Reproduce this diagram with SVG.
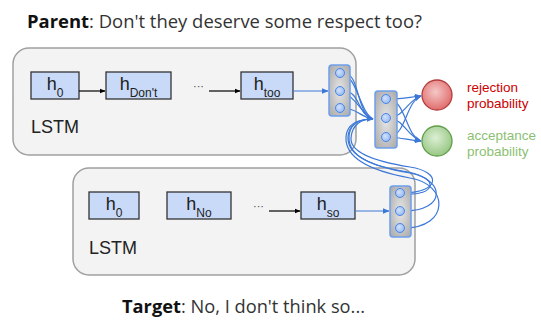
<svg xmlns="http://www.w3.org/2000/svg" width="541" height="320" viewBox="0 0 541 320">
<defs>
<style>
.cont{fill:#f3f3f3;stroke:#a0a0a0;stroke-width:1.5}
.node{fill:#c9daf8;stroke:#333;stroke-width:1.3}
.lbl{font-family:"Liberation Sans",Arial,sans-serif;font-size:18px;fill:#222}
.sub{font-size:12px}
.lstm{font-family:"Liberation Sans",Arial,sans-serif;font-size:18px;fill:#222}
.dots{font-family:"Liberation Sans",Arial,sans-serif;font-size:11px;fill:#444}
.vec{fill:url(#gg);stroke:#6d9eeb;stroke-width:1.5}
.cell{fill:url(#bc);stroke:#4a86e8;stroke-width:1}
.blk{stroke:#000;stroke-width:1.2;fill:none}
.blu{stroke:#3c78d8;stroke-width:1.2;fill:none}
.cap{font-family:"Open Sans","DejaVu Sans",sans-serif;font-size:18px;fill:#333}
.prob{font-family:"Liberation Sans",Arial,sans-serif;font-size:13.5px}
</style>
<radialGradient id="gg" cx="0.5" cy="0.5" r="0.7">
<stop offset="0" stop-color="#e6e6e6"/><stop offset="1" stop-color="#a8a8a8"/>
</radialGradient>
<radialGradient id="bc" cx="0.4" cy="0.4" r="0.7">
<stop offset="0" stop-color="#d2e2fb"/><stop offset="1" stop-color="#8fb4f0"/>
</radialGradient>
<radialGradient id="rg" cx="0.45" cy="0.4" r="0.65">
<stop offset="0" stop-color="#f4c7c7"/><stop offset="1" stop-color="#e06666"/>
</radialGradient>
<radialGradient id="gr" cx="0.45" cy="0.4" r="0.65">
<stop offset="0" stop-color="#dcefd5"/><stop offset="1" stop-color="#93c47d"/>
</radialGradient>
<marker id="ak" viewBox="0 0 10 10" refX="9" refY="5" markerWidth="6" markerHeight="6" orient="auto" markerUnits="userSpaceOnUse"><path d="M0,1 L10,5 L0,9 z" fill="#000"/></marker>
<marker id="ab" viewBox="0 0 10 10" refX="9" refY="5" markerWidth="7" markerHeight="7" orient="auto" markerUnits="userSpaceOnUse"><path d="M0,1 L10,5 L0,9 z" fill="#3c78d8"/></marker>
</defs>

<g id="caption-parent"><text class="cap" x="27" y="28" textLength="395" lengthAdjust="spacingAndGlyphs"><tspan font-weight="bold" fill="#111">Parent</tspan>: Don't they deserve some respect too?</text></g>

<g id="parent-lstm"><rect class="cont" x="13" y="48" width="343" height="107" rx="16"/>
<text class="lstm" x="31" y="133">LSTM</text></g>

<g id="target-lstm"><rect class="cont" x="73" y="168" width="342" height="107" rx="16"/>
<text class="lstm" x="89" y="254">LSTM</text></g>

<g id="p-h0"><rect class="node" x="31" y="72" width="48" height="27"/><text class="lbl" x="55" y="90" text-anchor="middle">h<tspan class="sub" dy="7">0</tspan></text></g>
<g id="p-hdont"><rect class="node" x="106" y="72" width="65" height="27"/><text class="lbl" x="138.5" y="90" text-anchor="middle">h<tspan class="sub" dy="7">Don't</tspan></text></g>
<g id="p-htoo"><rect class="node" x="241" y="72" width="52" height="27"/><text class="lbl" x="267" y="90" text-anchor="middle">h<tspan class="sub" dy="7">too</tspan></text></g>
<text class="dots" x="193" y="90">···</text>

<g id="t-h0"><rect class="node" x="89" y="192" width="50" height="27"/><text class="lbl" x="114" y="210" text-anchor="middle">h<tspan class="sub" dy="7">0</tspan></text></g>
<g id="t-hno"><rect class="node" x="167" y="192" width="64" height="27"/><text class="lbl" x="199" y="210" text-anchor="middle">h<tspan class="sub" dy="7">No</tspan></text></g>
<g id="t-hso"><rect class="node" x="301" y="192" width="54" height="27"/><text class="lbl" x="328" y="210" text-anchor="middle">h<tspan class="sub" dy="7">so</tspan></text></g>
<text class="dots" x="253" y="210">···</text>

<g id="connectors">
<line class="blk" x1="79" y1="91" x2="105" y2="91" marker-end="url(#ak)"/>
<line class="blk" x1="209" y1="91" x2="240" y2="91" marker-end="url(#ak)"/>
<line class="blk" x1="269" y1="211" x2="300" y2="211" marker-end="url(#ak)"/>
<line class="blu" x1="293" y1="91" x2="328" y2="91" marker-end="url(#ab)"/>
<line class="blu" x1="355" y1="211" x2="389" y2="211" marker-end="url(#ab)"/>
<path class="blu" d="M344 73 C360 73 356 114 373 119"/>
<path class="blu" d="M344 75 C357 78 360 112 373 119"/>
<path class="blu" d="M344 91 C360 91 358 116 373 119"/>
<path class="blu" d="M344 93 C356 97 362 115 373 119"/>
<path class="blu" d="M344 108 C356 108 362 118 373 119"/>
<path class="blu" d="M404 193 C440 192 442 172 410 167 C372 161 350 152 351 138 C352 124 362 119 373 119"/>
<path class="blu" d="M404 194 C436 196 440 178 408 172 C370 166 349 156 349 138 C349 124 360 119 373 119"/>
<path class="blu" d="M404 211 C446 211 446 180 410 173 C368 166 347 154 348 137 C349 123 360 119 373 119"/>
<path class="blu" d="M404 228 C450 228 449 184 410 178 C366 170 345 156 346 137 C347 123 360 119 373 119" marker-end="url(#ab)"/>
<path class="blu" d="M390 99 C402 99 410 97 421 96" marker-end="url(#ab)"/>
<path class="blu" d="M390 118 C404 116 408 100 421 96" marker-end="url(#ab)"/>
<path class="blu" d="M390 137 C406 134 406 102 421 96" marker-end="url(#ab)"/>
<path class="blu" d="M390 99 C406 103 406 136 421 141" marker-end="url(#ab)"/>
<path class="blu" d="M390 118 C404 120 408 137 421 141" marker-end="url(#ab)"/>
<path class="blu" d="M390 137 C402 138 410 140 421 141" marker-end="url(#ab)"/>
</g>

<g id="vec-parent"><rect class="vec" x="329" y="65" width="21" height="51" rx="3"/>
<circle class="cell" cx="340" cy="73" r="4.5"/><circle class="cell" cx="340" cy="91" r="4.5"/><circle class="cell" cx="340" cy="108" r="4.5"/></g>
<g id="vec-combined"><rect class="vec" x="375" y="91" width="22" height="57" rx="3"/>
<circle class="cell" cx="386" cy="99" r="4.5"/><circle class="cell" cx="386" cy="118" r="4.5"/><circle class="cell" cx="386" cy="137" r="4.5"/></g>
<g id="vec-target"><rect class="vec" x="390" y="186" width="21" height="51" rx="3"/>
<circle class="cell" cx="400" cy="193" r="4.5"/><circle class="cell" cx="400" cy="211" r="4.5"/><circle class="cell" cx="400" cy="228" r="4.5"/></g>

<g id="rejection"><circle cx="437" cy="95" r="15" fill="url(#rg)" stroke="#b33c3c" stroke-width="1.3"/>
<text class="prob" fill="#cc0000" x="467" y="92">rejection</text><text class="prob" fill="#cc0000" x="467" y="108">probability</text></g>
<g id="acceptance"><circle cx="437" cy="141" r="15" fill="url(#gr)" stroke="#5f9e48" stroke-width="1.3"/>
<text class="prob" fill="#8cbf73" x="467" y="140">acceptance</text><text class="prob" fill="#8cbf73" x="467" y="156">probability</text></g>

<g id="caption-target"><text class="cap" x="122" y="313" textLength="243" lengthAdjust="spacingAndGlyphs"><tspan font-weight="bold" fill="#111">Target</tspan>: No, I don't think so...</text></g>
</svg>
